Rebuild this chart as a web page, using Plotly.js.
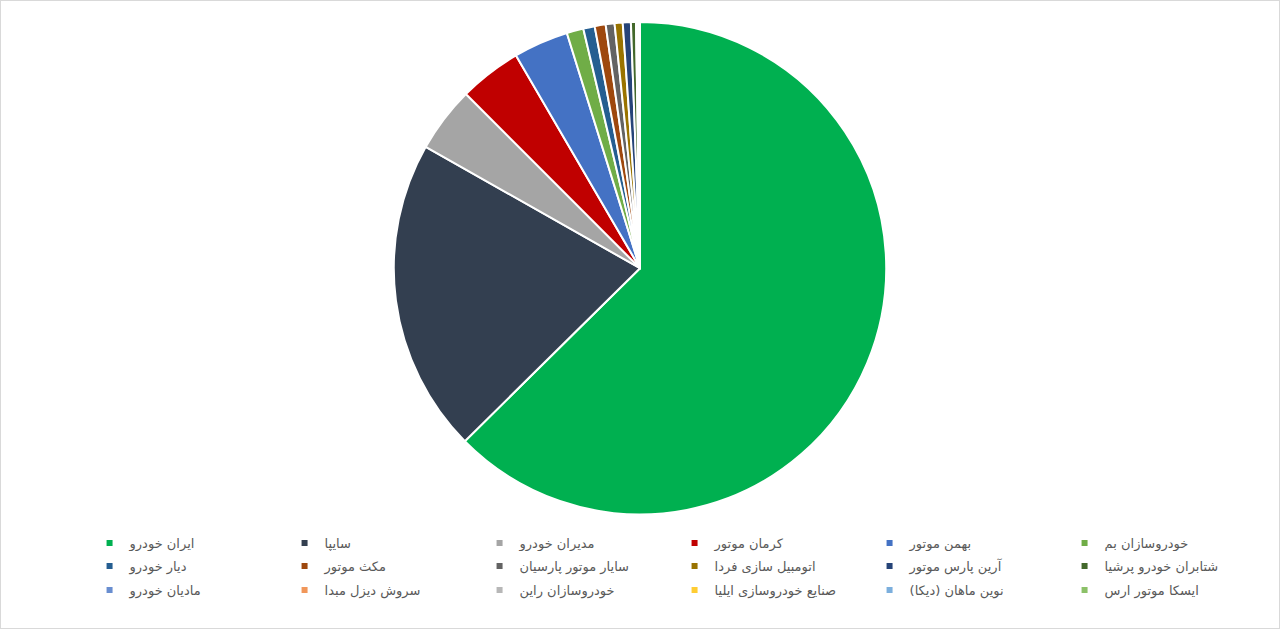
<!DOCTYPE html>
<html>
<head>
<meta charset="utf-8">
<script src="https://cdn.plot.ly/plotly-3.0.1.min.js"></script>
<style>
    html, body { margin: 0; padding: 0; background: #fff; }
    #shareChart { width: 1278px; height: 627px; border: 1px solid #d9d9d9; }
</style>
</head>
<body>
<div id="shareChart"></div>
<script>
// manufacturers, in legend order (left to right, row by row)
const companies = [
    "ایران خودرو", "سایپا", "مدیران خودرو", "کرمان موتور", "بهمن موتور", "خودروسازان بم",
    "دیار خودرو", "مکث موتور", "سایار موتور پارسیان", "اتومبیل سازی فردا", "آرین پارس موتور", "شتابران خودرو پرشیا",
    "مادیان خودرو", "سروش دیزل مبدا", "خودروسازان راین", "صنایع خودروسازی ایلیا", "نوین ماهان (دیکا)", "ایسکا موتور ارس"
];

// share of production (%)
const shares = [
    62.6, 20.6, 4.3, 4.1, 3.6, 1.1,
    0.75, 0.72, 0.58, 0.53, 0.53, 0.33,
    0.07, 0.05, 0.05, 0.04, 0.03, 0.02
];

const sliceColours = [
    "#00b050", "#333f50", "#a5a5a5", "#c00000", "#4472c4", "#70ad47",
    "#255e91", "#9e480e", "#636363", "#997300", "#264478", "#43682b",
    "#698ed0", "#f1975a", "#b7b7b7", "#ffcd33", "#7cafdd", "#8cc168"
];

const legendFont = { family: "DejaVu Sans, sans-serif", size: 13, color: "#595959" };
const legendNames = ["legend", "legend2", "legend3"]; // one legend per row, 6 entries each
const rowTops = [0.1595, 0.1228, 0.0845];

const pieTrace = {
    type: "pie",
    labels: companies,
    values: shares,
    sort: false,
    direction: "clockwise",
    rotation: 0,
    textinfo: "none",
    hoverinfo: "label+percent",
    showlegend: false,
    marker: { colors: sliceColours, line: { color: "#ffffff", width: 2 } },
    domain: { x: [0, 1], y: [0.1812, 0.9666] }
};

// legend-only traces so the key squares stay small like the original
const legendTraces = companies.map((name, i) => ({
    type: "scatter",
    mode: "markers",
    x: [null],
    y: [null],
    name: name,
    legend: legendNames[Math.floor(i / 6)],
    marker: { symbol: "square", size: 6, color: sliceColours[i] },
    hoverinfo: "skip"
}));

const layout = {
    width: 1278,
    height: 627,
    margin: { l: 0, r: 0, t: 0, b: 0 },
    paper_bgcolor: "#ffffff",
    plot_bgcolor: "#ffffff",
    xaxis: { visible: false },
    yaxis: { visible: false },
    showlegend: true,
    font: legendFont
};

legendNames.forEach((key, row) => {
    layout[key] = {
        orientation: "h",
        x: 0.0693,
        xanchor: "left",
        y: rowTops[row],
        yanchor: "top",
        entrywidth: 150,
        entrywidthmode: "pixels",
        itemwidth: 30,
        traceorder: "normal",
        font: legendFont
    };
});

Plotly.newPlot("shareChart", [pieTrace, ...legendTraces], layout, { displayModeBar: false, staticPlot: true });
</script>
</body>
</html>
